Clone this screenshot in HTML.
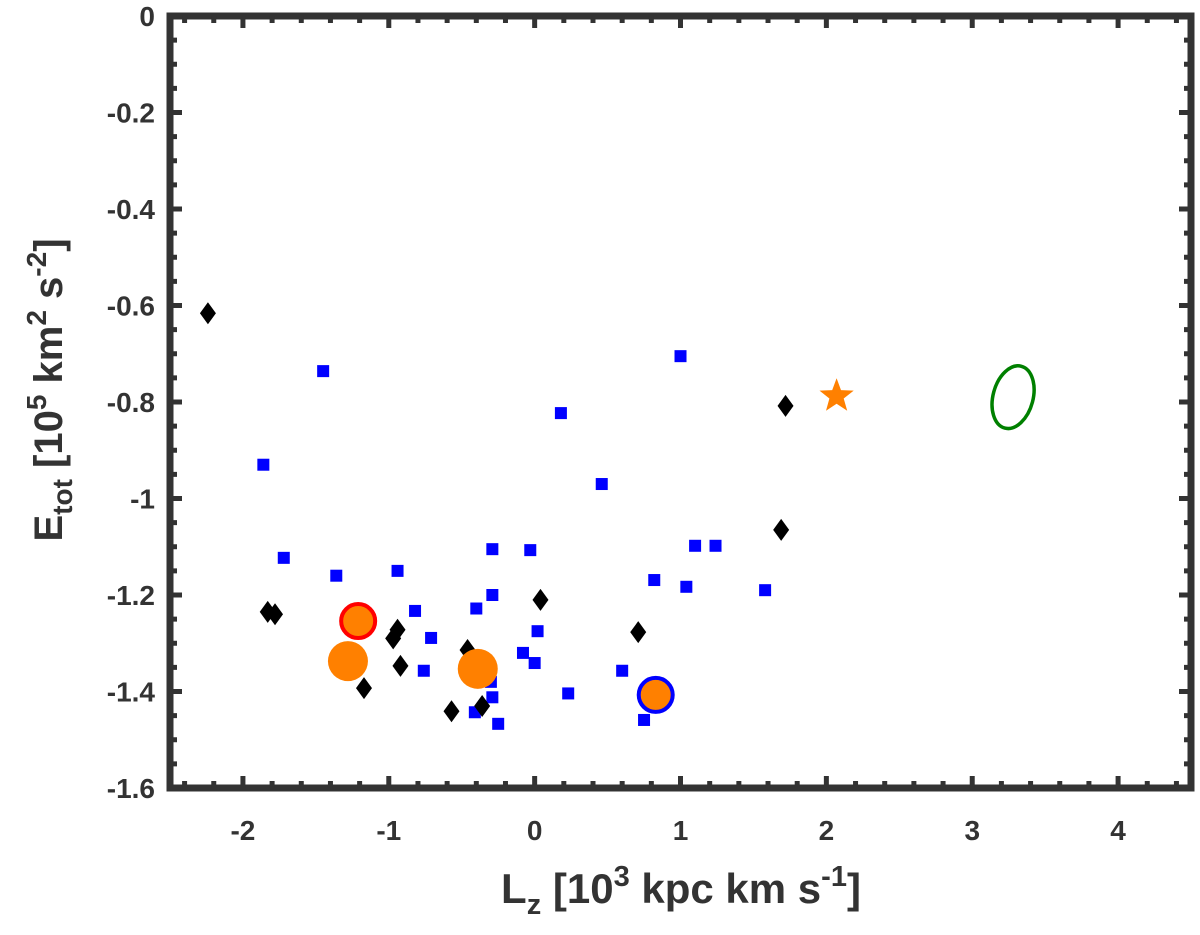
<!DOCTYPE html>
<html><head><meta charset="utf-8"><style>
body{margin:0;background:#fff}
svg text{font-family:"Liberation Sans",sans-serif;font-weight:bold;fill:#333}
</style></head><body>
<svg id="chart" width="1200" height="930" xmlns="http://www.w3.org/2000/svg">
<g id="marks"></g>
<g id="frame"></g>
</svg>
<script>
const xTicks=[-2,-1,0,1,2,3,4];
const yTicks=[0,-0.2,-0.4,-0.6,-0.8,-1,-1.2,-1.4,-1.6];
const yTickLabels=["0","-0.2","-0.4","-0.6","-0.8","-1","-1.2","-1.4","-1.6"];
const squaresLz=[-1.86,-1.45,-1.72,-1.36,-0.94,-0.82,-0.71,-0.76,-0.40,-0.29,-0.29,-0.30,-0.29,-0.41,-0.25,-0.08,-0.03,0.02,0.0,0.23,0.18,0.46,0.60,1.0,0.82,1.04,1.10,1.24,1.58,0.75];
const squaresE=[-0.93,-0.736,-1.123,-1.16,-1.15,-1.233,-1.289,-1.357,-1.228,-1.105,-1.2,-1.38,-1.412,-1.443,-1.467,-1.32,-1.107,-1.275,-1.341,-1.404,-0.823,-0.97,-1.357,-0.705,-1.169,-1.183,-1.098,-1.098,-1.19,-1.459];
const diamondsLz=[-2.24,-1.83,-1.78,-1.17,-0.97,-0.94,-0.92,-0.57,-0.46,-0.36,0.04,0.71,1.69,1.72];
const diamondsE=[-0.616,-1.235,-1.24,-1.393,-1.29,-1.272,-1.347,-1.441,-1.314,-1.43,-1.21,-1.277,-1.065,-0.808];
const circlesLz=[-1.21,-1.28,-0.39,0.83];
const circlesE=[-1.254,-1.337,-1.353,-1.407];
const circleRings=["#ff0000","none","none","#0000ff"];
const starLz=2.07, starE=-0.788;
const ellipseLz=3.28, ellipseE=-0.79;
const X=v=>170+(v+2.5)*145.86;
const Y=v=>16-v*482.5;
const NS="http://www.w3.org/2000/svg";
function mk(tag,attrs,parent){const e=document.createElementNS(NS,tag);for(const k in attrs)e.setAttribute(k,attrs[k]);parent.appendChild(e);return e;}
const marks=document.getElementById('marks');
const frame=document.getElementById('frame');
squaresLz.forEach((v,i)=>{const e=mk('rect',{x:X(v)-6,y:Y(squaresE[i])-6,width:12,height:12,fill:'#0000ff'},marks);

});
diamondsLz.forEach((v,i)=>{const cx=X(v),cy=Y(diamondsE[i]);const e=mk('polygon',{points:`${cx},${cy-11} ${cx+8},${cy} ${cx},${cy+11} ${cx-8},${cy}`,fill:'#000'},marks);

});
circlesLz.forEach((v,i)=>{const e=mk('circle',{cx:X(v),cy:Y(circlesE[i]),r:circleRings[i]==='none'?20:17,fill:'#ff8000',stroke:circleRings[i],'stroke-width':4},marks);

});
(function(){const cx=X(starLz),cy=Y(starE);let p=[];for(let k=0;k<10;k++){const r=k%2?7.5:18,a=-Math.PI/2+k*Math.PI/5;p.push((cx+r*Math.cos(a)).toFixed(1)+','+(cy+r*Math.sin(a)).toFixed(1));}
const e=mk('polygon',{points:p.join(' '),fill:'#ff8000'},marks);

})();
(function(){const cx=X(ellipseLz),cy=Y(ellipseE);const e=mk('ellipse',{cx:cx,cy:cy,rx:20,ry:32,fill:'none',stroke:'#008000','stroke-width':3.5,transform:`rotate(15 ${cx} ${cy})`},marks);

})();
const fr=mk('rect',{x:170,y:16,width:1021,height:772,fill:'none',stroke:'#333','stroke-width':7},frame);


for(let v=-2.4;v<4.45;v+=0.2){const major=Math.abs(v-Math.round(v))<0.01;const L=major?12:7;const x=X(v);
mk('line',{x1:x,y1:788,x2:x,y2:788-L,stroke:'#333','stroke-width':5},frame);
mk('line',{x1:x,y1:16,x2:x,y2:16+L,stroke:'#333','stroke-width':5},frame);}
for(let i=1;i<32;i++){const v=-i*0.05;const major=i%4===0;const L=major?12:7;const y=Y(v);
mk('line',{x1:170,y1:y,x2:170+L,y2:y,stroke:'#333','stroke-width':5},frame);
mk('line',{x1:1191,y1:y,x2:1191-L,y2:y,stroke:'#333','stroke-width':5},frame);}
xTicks.forEach(v=>{const t=mk('text',{x:X(v),y:840,'font-size':28,'text-anchor':'middle'},frame);t.textContent=String(v);

});
yTicks.forEach((v,i)=>{const t=mk('text',{x:155,y:Y(v)+10,'font-size':28,'text-anchor':'end'},frame);t.textContent=yTickLabels[i];

});
</script>
<svg style="position:absolute;left:0;top:0" width="1200" height="930" xmlns="http://www.w3.org/2000/svg">
<text x="681" y="903" font-size="42" text-anchor="middle">L<tspan font-size="29" dy="11">z</tspan><tspan dy="-11"> [10</tspan><tspan font-size="29" dy="-17">3</tspan><tspan dy="17"> kpc km s</tspan><tspan font-size="29" dy="-17">-1</tspan><tspan dy="17">]</tspan></text>
<text transform="translate(62,390) rotate(-90)" font-size="40" text-anchor="middle">E<tspan font-size="28" dy="10">tot</tspan><tspan dy="-10"> [10</tspan><tspan font-size="28" dy="-16">5</tspan><tspan dy="16"> km</tspan><tspan font-size="28" dy="-16">2</tspan><tspan dy="16"> s</tspan><tspan font-size="28" dy="-16">-2</tspan><tspan dy="16">]</tspan></text>
</svg>
</body></html>
